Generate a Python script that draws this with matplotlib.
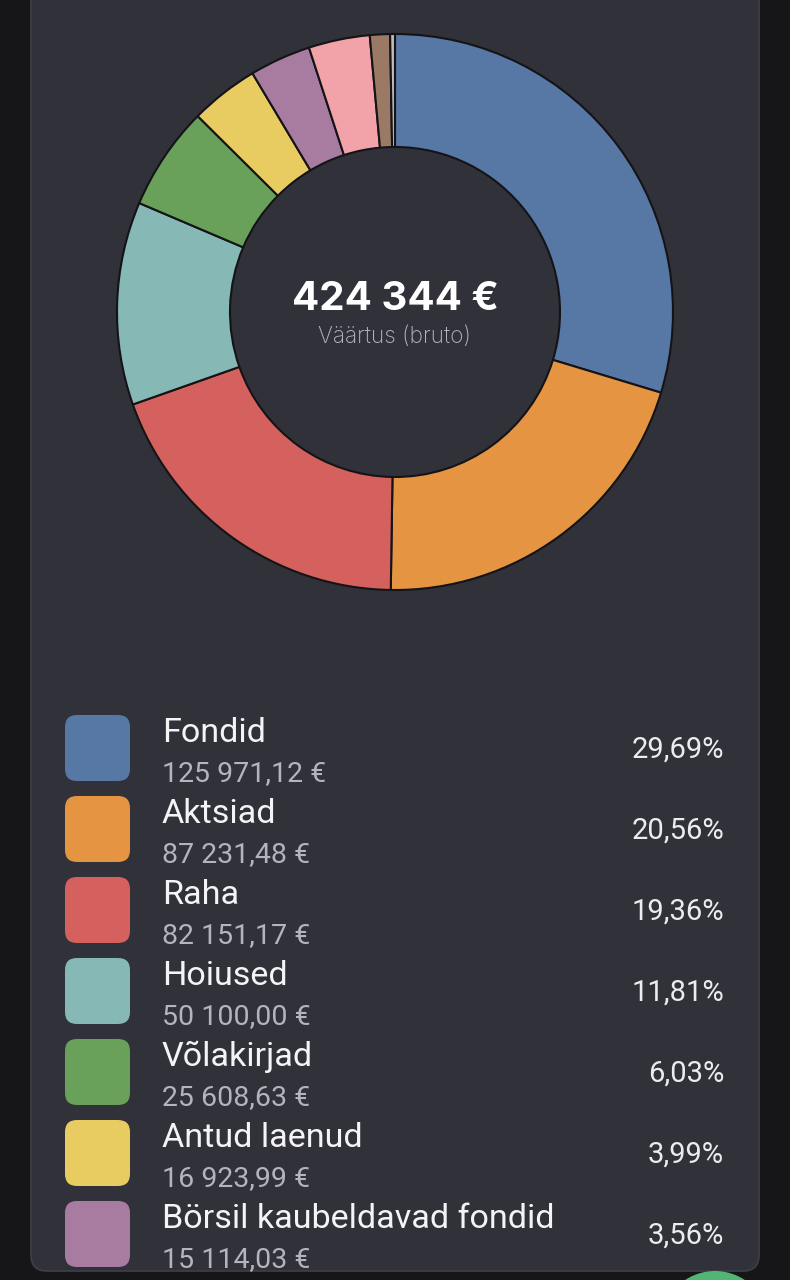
import matplotlib
matplotlib.use("Agg")
import matplotlib.pyplot as plt
from matplotlib.patches import FancyBboxPatch, Circle

# ---------------- data ----------------
total_value = 424344
center_label = "Väärtus (bruto)"

categories = ["Fondid", "Aktsiad", "Raha", "Hoiused", "Võlakirjad",
              "Antud laenud", "Börsil kaubeldavad fondid"]
amounts = [125971.12, 87231.48, 82151.17, 50100.00, 25608.63, 16923.99, 15114.03]
percents = [29.69, 20.56, 19.36, 11.81, 6.03, 3.99, 3.56]
# slices further down the (cut-off) list, estimated from the ring
hidden_amounts = [15094.0, 4960.0, 1190.0]

colors = ["#5777a5", "#e59442", "#d4615d", "#86b8b5", "#69a05a",
          "#e8cc62", "#a87ca0"]
hidden_colors = ["#f2a3aa", "#9a7a65", "#c2bab6"]

# ---------------- style ----------------
OUTER_BG = "#161619"
CARD_BG = "#31313a"
CARD_EDGE = "#3f3f49"
W, H = 790, 1280

fig = plt.figure(figsize=(W / 100, H / 100), dpi=100)
fig.patch.set_facecolor(OUTER_BG)

bg = fig.add_axes([0, 0, 1, 1])
bg.set_xlim(0, W)
bg.set_ylim(H, 0)
bg.axis("off")

card = FancyBboxPatch((31, -40), 728, 1311,
                      boxstyle="round,pad=0,rounding_size=16",
                      facecolor=CARD_BG, edgecolor=CARD_EDGE, linewidth=1.2)
bg.add_patch(card)

# ---------------- donut ----------------
cx, cy, r_px, rin_px = 395, 312, 278, 165
half = 300
ax = fig.add_axes([(cx - half) / W, (H - cy - half) / H, 2 * half / W, 2 * half / H])
vals = amounts + hidden_amounts
cols = colors + hidden_colors
ax.pie(vals, colors=cols, startangle=90, counterclock=False, radius=1.0,
       wedgeprops=dict(width=(r_px - rin_px) / r_px, edgecolor="#141417",
                       linewidth=1.5, joinstyle="round"))
lim = half / r_px
ax.set_xlim(-lim, lim)
ax.set_ylim(-lim, lim)
ax.set_aspect("equal")
ax.axis("off")

def fmt_amount(v, dec=2):
    s = f"{v:,.{dec}f}"
    return s.replace(",", " ").replace(".", ",") + " €"

bg.text(cx, 300, fmt_amount(total_value, 0), ha="center", va="center",
        fontsize=29, fontweight="bold", color="#ffffff", family="Inter")
bg.text(cx, 337, center_label, ha="center", va="center",
        fontsize=16.3, fontweight="light", color="#b4b4bc", family="Inter")

# ---------------- legend ----------------
row0, step = 715, 81
for i, (name, amt, pct, col) in enumerate(zip(categories, amounts, percents, colors)):
    y = row0 + i * step
    sw = FancyBboxPatch((65, y), 65, 66,
                        boxstyle="round,pad=0,rounding_size=12",
                        facecolor=col, edgecolor="none")
    bg.add_patch(sw)
    bg.text(162, y + 27, name, ha="left", va="baseline", fontsize=24.6,
            color="#f4f4f6", family="Roboto")
    bg.text(162, y + 66, fmt_amount(amt), ha="left", va="baseline",
            fontsize=20.5, color="#b4b4bc", family="Roboto")
    bg.text(724, y + 43, f"{pct:.2f}%".replace(".", ","), ha="right",
            va="baseline", fontsize=21, color="#ececef", family="Roboto")

# floating action button peeking at the bottom
bg.add_patch(Circle((715, 1325), 54, facecolor="#52b574", edgecolor="none"))

fig.savefig("out.png", dpi=100, facecolor=OUTER_BG)
